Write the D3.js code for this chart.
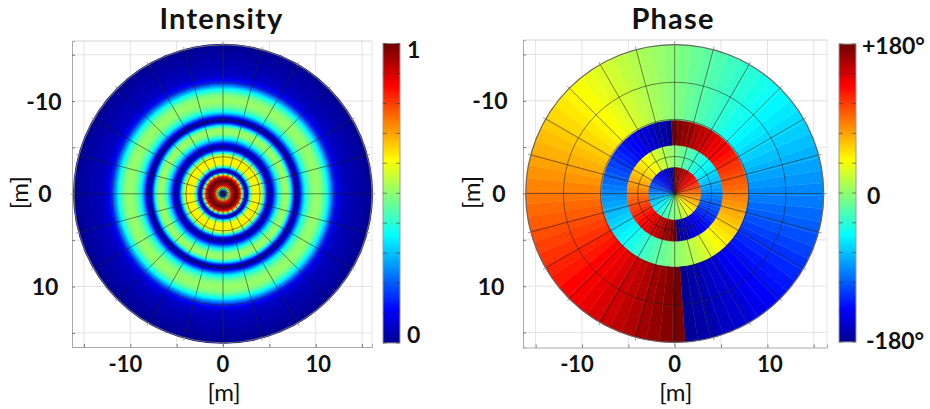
<!DOCTYPE html>
<html><head><meta charset="utf-8">
<script src="https://cdn.jsdelivr.net/npm/d3@7/dist/d3.min.js"></script>
<style>html,body{margin:0;background:#fff}svg{display:block}text{font-family:Lato,"Open Sans",sans-serif;fill:#111}</style>
</head><body><svg id="c" width="930" height="409"></svg>
<script>
// ---- data ----
const titles = ["Intensity", "Phase"];
const axisTicks = [-15, -10, -5, 0, 5, 10, 15];
const labelledTicks = [-10, 0, 10];
const gridRadii = [4, 8, 12, 16];
const spokeAngles = [0,15,30,45,60,75,90,105,120,135,150,165,180,195,210,225,240,255,270,285,300,315,330,345];
const discRadius = 16.07;                // metres
const radialStep = discRadius / 149;     // metres between profile samples
// intensity read outward from the centre, one sample per radial step
const intensityProfile = [
 .02,.05,.12,.25,.38,.52,.65,.76,.85,.90,.94,.97,1,1,.97,.93,.88,.80,.68,.50,
 .30,.14,.04,.03,.10,.22,.34,.44,.52,.57,.60,.62,.62,.62,.62,.62,.62,.60,.56,.50,
 .42,.34,.25,.16,.09,.04,.02,.02,.05,.09,.14,.19,.24,.29,.33,.37,.41,.44,.47,.49,
 .50,.51,.51,.51,.50,.48,.44,.38,.32,.24,.16,.08,.03,.01,.02,.05,.10,.15,.20,.25,
 .30,.34,.37,.40,.42,.44,.46,.47,.48,.49,.50,.50,.51,.51,.51,.50,.50,.49,.48,.47,
 .45,.43,.41,.39,.36,.33,.30,.26,.23,.20,.17,.15,.13,.11,.09,.08,.07,.06,.05,.05,
 .05,.05,.04,.04,.04,.04,.04,.03,.03,.03,.03,.03,.03,.03,.02,.02,.02,.02,.02,.02,
 .02,.02,.01,.01,.01,.01,.01,.01,.01,.01];
// phase of each 5-degree sector, counter-clockwise from the discontinuity
const sectorPhase = [
 -177.5,-172.5,-167.5,-162.5,-157.5,-152.5,-147.5,-142.5,-137.5,-132.5,-127.5,-122.5,
 -117.5,-112.5,-107.5,-102.5,-97.5,-92.5,-87.5,-82.5,-77.5,-72.5,-67.5,-62.5,
 -57.5,-52.5,-47.5,-42.5,-37.5,-32.5,-27.5,-22.5,-17.5,-12.5,-7.5,-2.5,
 2.5,7.5,12.5,17.5,22.5,27.5,32.5,37.5,42.5,47.5,52.5,57.5,
 62.5,67.5,72.5,77.5,82.5,87.5,92.5,97.5,102.5,107.5,112.5,117.5,
 122.5,127.5,132.5,137.5,142.5,147.5,152.5,157.5,162.5,167.5,172.5,177.5];
const ringOuter = [16.07, 7.87, 5.15, 2.8];       // metres
const ringInner = [7.87, 5.15, 2.8, 0];
const ringStartDeg = [176, -2.6, 177.5, -2.2];    // where phase -180 begins, clockwise from north
const jetStops = [0, .11, .36, .61, .86, 1];
const jetColors = ["#00008f", "#0000ff", "#00ffff", "#ffff00", "#ff0000", "#700000"];
const barTicks = [0, .1, .2, .3, .4, .5, .6, .7, .8, .9, 1];

// ---- shared ----
const svg = d3.select("#c");
const defs = svg.append("defs");
defs.append("filter").attr("id", "soft").attr("x", "-5%").attr("y", "-5%").attr("width", "110%").attr("height", "110%")
  .append("feGaussianBlur").attr("stdDeviation", .55);
const grad = defs.append("linearGradient").attr("id", "jet").attr("x1", 0).attr("y1", 1).attr("x2", 0).attr("y2", 0);
jetStops.forEach((s, i) => grad.append("stop").attr("offset", s).attr("stop-color", jetColors[i]));
const jet = d3.scaleLinear().domain(jetStops).range(jetColors).clamp(true);
const phaseT = d3.scaleLinear().domain([-180, 180]).range([0, 1]);
const pxPerM = 9.27;

function panel(o) {
  const x = d3.scaleLinear().domain([(o.left - o.cx) / pxPerM, (o.right - o.cx) / pxPerM]).range([o.left, o.right]);
  const y = d3.scaleLinear().domain([(o.top - o.cy) / pxPerM, (o.bottom - o.cy) / pxPerM]).range([o.top, o.bottom]);
  const r = d3.scaleLinear().domain([0, discRadius]).range([0, x(discRadius) - x(0)]);
  const g = svg.append("g");

  // frame + grid
  g.append("g").selectAll("line").data(axisTicks).join("line")
    .attr("x1", d => x(d)).attr("x2", d => x(d)).attr("y1", o.top).attr("y2", o.bottom).attr("stroke", "#e2e2e2");
  g.append("g").selectAll("line").data(axisTicks).join("line")
    .attr("y1", d => y(d)).attr("y2", d => y(d)).attr("x1", o.left).attr("x2", o.right).attr("stroke", "#e2e2e2");
  g.append("line").attr("x1", o.left).attr("x2", o.right).attr("y1", o.top).attr("y2", o.top).attr("stroke", "#d4d4d4");
  g.append("line").attr("x1", o.right).attr("x2", o.right).attr("y1", o.top).attr("y2", o.bottom).attr("stroke", "#e6e6e6");

  const yAxis = d3.axisLeft(y).tickValues(axisTicks).tickSize(-3).tickPadding(0).tickFormat("");
  const xAxis = d3.axisBottom(x).tickValues(axisTicks).tickSize(-3).tickPadding(0).tickFormat("");
  [g.append("g").attr("transform", `translate(${o.left},0)`).call(yAxis),
   g.append("g").attr("transform", `translate(0,${o.bottom})`).call(xAxis)].forEach(a => {
     a.select(".domain").attr("stroke", "#a8a8a8");
     a.selectAll(".tick line").attr("stroke", "#777");
   });

  // disc marks
  const marks = g.append("g").attr("transform", `translate(${x(0)},${y(0)})`).attr("filter", "url(#soft)");
  o.draw(marks, r);

  // polar grid
  const spoke = marks.append("g");
  spoke.selectAll("line").data(spokeAngles).join("line")
    .attr("x2", d => r(discRadius) * Math.cos(d * Math.PI / 180))
    .attr("y2", d => r(discRadius) * Math.sin(d * Math.PI / 180))
    .attr("stroke", "#222").attr("stroke-opacity", .62).attr("stroke-width", .9);
  marks.append("g").selectAll("circle").data(gridRadii.slice(0, 3)).join("circle")
    .attr("r", d => r(d)).attr("fill", "none").attr("stroke", "#222").attr("stroke-opacity", .62).attr("stroke-width", .9);
  marks.append("circle").attr("r", r(discRadius)).attr("fill", "none").attr("stroke", "#666").attr("stroke-width", 1.2);
  g.append("g").attr("transform", `translate(${x(0)},${y(0)})`).selectAll("line").data(spokeAngles).join("line")
    .attr("x1", d => r(discRadius) * Math.cos(d * Math.PI / 180))
    .attr("y1", d => r(discRadius) * Math.sin(d * Math.PI / 180))
    .attr("x2", d => (r(discRadius) + 3) * Math.cos(d * Math.PI / 180))
    .attr("y2", d => (r(discRadius) + 3) * Math.sin(d * Math.PI / 180))
    .attr("stroke", "#999");

  // tick labels
  const lab = (sel) => sel.attr("font-size", 23).attr("font-weight", 700).attr("text-anchor", "middle");
  g.append("g").selectAll("text").data(labelledTicks).join("text").call(lab)
    .attr("x", d => d === 0 ? o.zeroLabelX : o.yLabelX + (d > 0 ? 1 : 0)).attr("y", d => y(d) + 8.5)
    .text(d => d);
  g.append("g").selectAll("text").data(labelledTicks).join("text").call(lab)
    .attr("font-size", 22)
    .attr("x", d => x(d) + (d < 0 ? -5 : d > 0 ? 2.5 : 0)).attr("y", 372).text(d => d);

  g.append("text").attr("x", x(0) + 1).attr("y", 400.5).attr("text-anchor", "middle").attr("font-size", 24).text("[m]");
  g.append("text").attr("transform", `translate(${o.mX},${y(0) - 1}) rotate(-90)`).attr("text-anchor", "middle").attr("font-size", 24).text("[m]");
  g.append("text").attr("x", o.titleX).attr("y", 29).attr("text-anchor", "middle").attr("font-size", 29)
    .attr("letter-spacing", 1.2).attr("font-weight", 700).text(o.title);

  // colour bar
  const bar = g.append("g");
  const barY = d3.scaleLinear().domain([0, 1]).range([o.barBottom, o.barTop]);
  bar.append("rect").attr("x", o.barX).attr("y", o.barTop).attr("width", 17).attr("height", o.barBottom - o.barTop)
    .attr("fill", "url(#jet)").attr("stroke", "#9a9a9a").attr("stroke-width", 1);
  [[o.barX, o.barX + 4], [o.barX + 13, o.barX + 17]].forEach(([a, b]) => {
    bar.append("g").selectAll("line").data(barTicks).join("line")
      .attr("x1", a).attr("x2", b).attr("y1", d => barY(d)).attr("y2", d => barY(d))
      .attr("stroke", "#333").attr("stroke-opacity", .55);
  });
  bar.selectAll("text").data(o.barLabels).join("text")
    .attr("x", d => d.x).attr("y", d => d.y).attr("font-size", 23).attr("font-weight", 700).text(d => d.t);
}

panel({
  title: titles[0], titleX: 221.5, cx: 223, cy: 193.8, left: 72, right: 372, top: 41, bottom: 347,
  yLabelX: 44, zeroLabelX: 45, mX: 28, barX: 383, barTop: 43.5, barBottom: 343,
  barLabels: [{t: "1", x: 407, y: 58}, {t: "0", x: 407, y: 343}],
  draw(m, r) {
    // paint outermost first so each sample is a disc under the next one
    const arc = d3.arc().innerRadius(0).startAngle(0).endAngle(2 * Math.PI);
    const rows = intensityProfile.map((v, i) => ({v, i})).reverse();
    m.append("g").selectAll("path").data(rows).join("path")
      .attr("d", d => arc({outerRadius: r((d.i + 1) * radialStep)}))
      .attr("fill", d => jet(d.v));
  }
});

panel({
  title: titles[1], titleX: 673, cx: 674.7, cy: 193.5, left: 523, right: 827, top: 40, bottom: 347.5,
  yLabelX: 490, zeroLabelX: 499, mX: 480, barX: 839, barTop: 44, barBottom: 342,
  barLabels: [{t: "+180°", x: 862, y: 54}, {t: "0", x: 867, y: 204}, {t: "-180°", x: 866, y: 349}],
  draw(m, r) {
    const arc = d3.arc();
    ringOuter.forEach((ro, k) => {
      const step = 360 / sectorPhase.length;
      m.append("g").selectAll("path").data(sectorPhase).join("path")
        .attr("d", (p, i) => {
          const end = (ringStartDeg[k] - i * step) * Math.PI / 180;
          const start = (ringStartDeg[k] - (i + 1) * step) * Math.PI / 180;
          return arc({innerRadius: r(ringInner[k]), outerRadius: r(ro), startAngle: start, endAngle: end});
        })
        .attr("fill", p => jet(phaseT(p))).attr("stroke", p => jet(phaseT(p))).attr("stroke-width", .4);
    });
  }
});
</script></body></html>
